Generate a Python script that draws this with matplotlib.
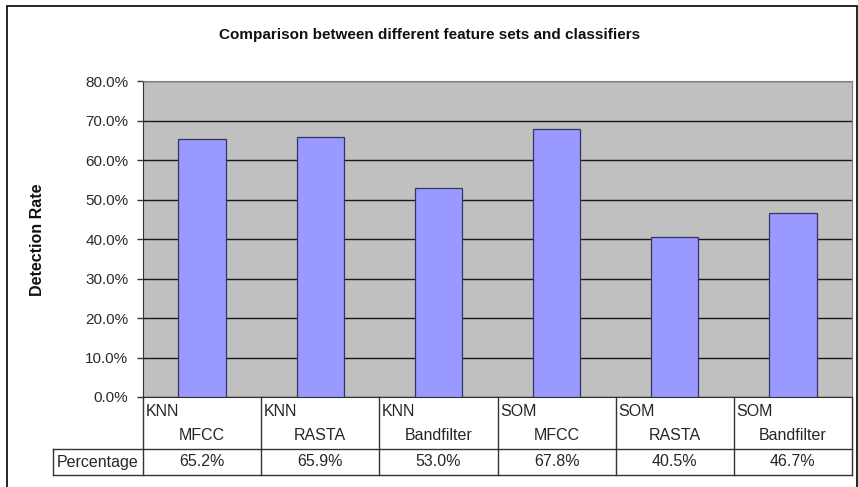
import matplotlib
matplotlib.use("Agg")
import matplotlib.pyplot as plt
import matplotlib.transforms as mtransforms
from matplotlib.patches import Rectangle
from matplotlib.lines import Line2D

plt.rcParams['font.family'] = ['Liberation Sans', 'DejaVu Sans']

classifiers = ["KNN", "KNN", "KNN", "SOM", "SOM", "SOM"]
features = ["MFCC", "RASTA", "Bandfilter", "MFCC", "RASTA", "Bandfilter"]
rates = [65.2, 65.9, 53.0, 67.8, 40.5, 46.7]
yticks = [0, 10, 20, 30, 40, 50, 60, 70, 80]
title = "Comparison between different feature sets and classifiers"
ylabel = "Detection Rate"
row_label = "Percentage"

W, H = 858, 487
fig = plt.figure(figsize=(W / 100, H / 100), dpi=100)

# outer border
fig.add_artist(Rectangle((7 / W, -0.05), (857 - 7) / W, (H - 6) / H + 0.05,
                         transform=fig.transFigure, fill=False,
                         edgecolor='black', linewidth=1.2))

left, right, top, bottom = 143, 852, 81, 397
ax = fig.add_axes([left / W, (H - bottom) / H, (right - left) / W, (bottom - top) / H])
ax.set_facecolor('#C0C0C0')

n = len(rates)
xs = [i + 0.5 for i in range(n)]
ax.bar(xs, rates, width=0.4, color='#9999FF', edgecolor='#333366', linewidth=0.9, zorder=3)

ax.set_xlim(0, n)
ax.set_ylim(0, 80)
ax.set_yticks(yticks)
ax.set_yticklabels([f"{v:.1f}%" for v in yticks], fontsize=11, color='#2a2a2a')
ax.yaxis.grid(True, color='#1a1a1a', linewidth=1.0, zorder=1)
ax.set_axisbelow(True)
ax.set_xticks([])
ax.tick_params(axis='y', length=4.5, width=1, color='#333333', pad=6)
for s in ['top', 'right']:
    ax.spines[s].set_color('#808080')
ax.spines['left'].set_color('#333333')
ax.spines['bottom'].set_color('#333333')

fig.text(430 / W, 1 - 35 / H, title, ha='center', va='center',
         fontsize=11, fontweight='bold', color='#111111')
fig.text(37 / W, 1 - 240 / H, ylabel, ha='center', va='center', rotation=90,
         fontsize=11.5, fontweight='bold', color='#111111')

# data table below axis
trans = mtransforms.blended_transform_factory(ax.transData, fig.transFigure)
def fy(py):
    return 1 - py / H

row1_top, row_mid, row2_bot = 397, 449, 475
label_left = (53 - left) / ((right - left) / n)
lc = '#333333'
for i in range(n + 1):
    ax.add_line(Line2D([i, i], [fy(row1_top), fy(row2_bot)], transform=trans,
                       color=lc, linewidth=1.0, clip_on=False))
ax.add_line(Line2D([label_left, n], [fy(row_mid), fy(row_mid)], transform=trans,
                   color=lc, linewidth=1.0, clip_on=False))
ax.add_line(Line2D([label_left, n], [fy(row2_bot), fy(row2_bot)], transform=trans,
                   color=lc, linewidth=1.0, clip_on=False))
ax.add_line(Line2D([label_left, label_left], [fy(row_mid), fy(row2_bot)], transform=trans,
                   color=lc, linewidth=1.0, clip_on=False))

tc = '#262626'
fs = 11.5
for i in range(n):
    ax.text(i + 0.02, fy(411), classifiers[i], transform=trans, ha='left', va='center',
            fontsize=fs, color=tc, clip_on=False)
    ax.text(i + 0.5, fy(436), features[i], transform=trans, ha='center', va='center',
            fontsize=fs, color=tc, clip_on=False)
    ax.text(i + 0.5, fy(462), f"{rates[i]:.1f}%", transform=trans, ha='center', va='center',
            fontsize=fs, color=tc, clip_on=False)
ax.text((label_left + 0) / 2, fy(462), row_label, transform=trans, ha='center', va='center',
        fontsize=fs, color=tc, clip_on=False)

fig.savefig("out.png", dpi=100)
